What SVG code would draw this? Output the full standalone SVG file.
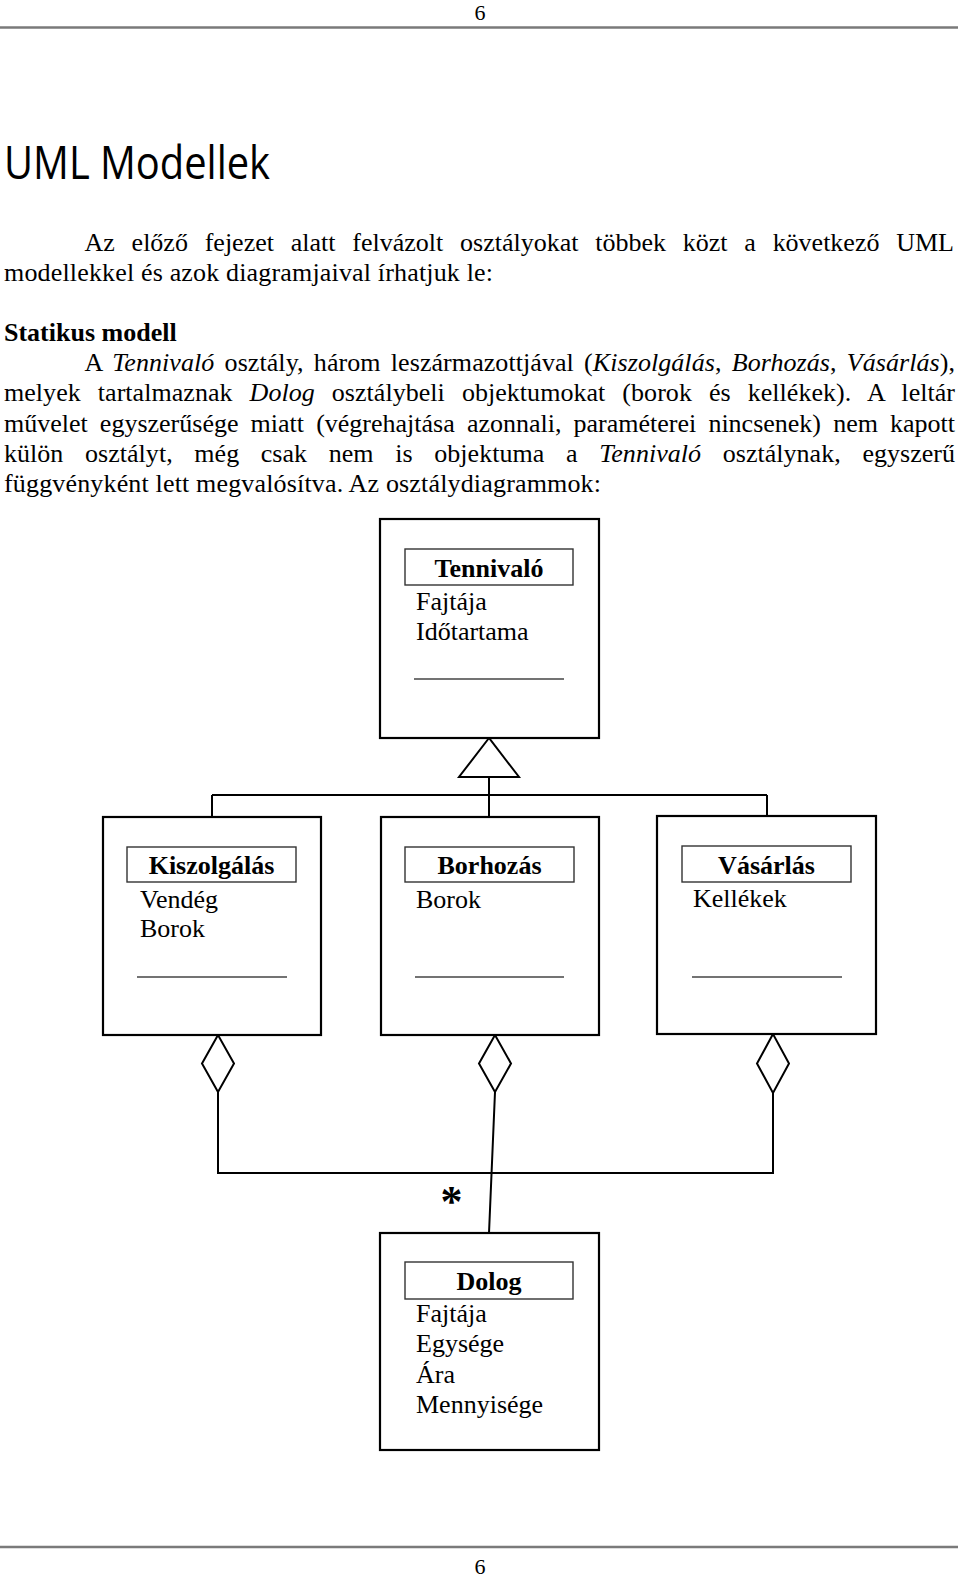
<svg xmlns="http://www.w3.org/2000/svg" width="960" height="1577" viewBox="0 0 960 1577">
<style>
.pg{font-family:"Liberation Serif","Times New Roman",serif;font-size:26px;fill:#000}
.it{font-style:italic}
.b{font-weight:bold}
.star{font-family:"Liberation Serif","Times New Roman",serif;font-size:44px;font-weight:bold;text-anchor:middle;fill:#000}
.num{font-family:"Liberation Serif","Times New Roman",serif;font-size:22px;fill:#000}
.h1{font-family:"Open Sans","Noto Sans",sans-serif;font-size:45px;fill:#000}
.rule{stroke:#7a7a7a;stroke-width:2.5}
.box{fill:#fff;stroke:#000;stroke-width:2.2}
.tbox{fill:none;stroke:#333;stroke-width:1.4}
.sep{stroke:#444;stroke-width:1.3}
.title{font-family:"Liberation Serif","Times New Roman",serif;font-size:26px;font-weight:bold;text-anchor:middle;fill:#000}
.attr{font-family:"Liberation Serif","Times New Roman",serif;font-size:26px;fill:#000}
.con{fill:none;stroke:#000;stroke-width:2}
.hd{fill:#fff;stroke:#000;stroke-width:2}
</style>
<rect width="960" height="1577" fill="#fff"/>
<g id="page">
<text class="num" x="480" y="20" text-anchor="middle">6</text>
<line class="rule" x1="0" y1="27.5" x2="958" y2="27.5"/>
<text class="h1" x="4" y="179" textLength="266" lengthAdjust="spacingAndGlyphs">UML Modellek</text>
<text class="pg" x="84.5" y="250.5" word-spacing="10.3" textLength="869.5" lengthAdjust="spacing">Az előző fejezet alatt felvázolt osztályokat többek közt a következő UML</text>
<text class="pg" x="4" y="280.7" textLength="489" lengthAdjust="spacing">modellekkel és azok diagramjaival írhatjuk le:</text>
<text class="pg b" x="4" y="340.9">Statikus modell</text>
<text class="pg" x="84.5" y="371.1" word-spacing="3.7" textLength="870.5" lengthAdjust="spacing">A <tspan class="it">Tennivaló</tspan> osztály, három leszármazottjával (<tspan class="it">Kiszolgálás</tspan>, <tspan class="it">Borhozás</tspan>, <tspan class="it">Vásárlás</tspan>),</text>
<text class="pg" x="4" y="401.3" word-spacing="10.5" textLength="951" lengthAdjust="spacing">melyek tartalmaznak <tspan class="it">Dolog</tspan> osztálybeli objektumokat (borok és kellékek). A leltár</text>
<text class="pg" x="4" y="431.5" word-spacing="5.6" textLength="951" lengthAdjust="spacing">művelet egyszerűsége miatt (végrehajtása azonnali, paraméterei nincsenek) nem kapott</text>
<text class="pg" x="4" y="461.7" word-spacing="15.1" textLength="951" lengthAdjust="spacing">külön osztályt, még csak nem is objektuma a <tspan class="it">Tennivaló</tspan> osztálynak, egyszerű</text>
<text class="pg" x="4" y="491.9" textLength="597" lengthAdjust="spacing">függvényként lett megvalósítva. Az osztálydiagrammok:</text>
<line class="rule" x1="0" y1="1547" x2="958" y2="1547"/>
<text class="num" x="480" y="1574" text-anchor="middle">6</text>
</g>
<g id="connectors">
<path class="con" d="M489 777 V795 M212 795 H767 M212 795 V817 M489 795 V817 M767 795 V816"/>
<polygon class="hd" points="489,738 459,777 519,777"/>
<path class="con" d="M218 1092 V1173 H773 V1093 M495 1092 L489 1233"/>
<polygon class="hd" points="218,1035 202,1063.5 218,1092 234,1063.5"/>
<polygon class="hd" points="495,1035 479,1063.5 495,1092 511,1063.5"/>
<polygon class="hd" points="773,1034 757,1063.5 773,1093 789,1063.5"/>
<text class="star" x="451.5" y="1215.5">*</text>
</g>
<g id="tennivalo">
<rect class="box" x="380" y="519" width="219" height="219"/>
<rect class="tbox" x="405" y="549" width="168" height="36"/>
<text class="title" x="489" y="576.5">Tennivaló</text>
<text class="attr" x="416" y="610">Fajtája</text>
<text class="attr" x="416" y="640">Időtartama</text>
<line class="sep" x1="414" y1="679" x2="564" y2="679"/>
</g>
<g id="kiszolgalas">
<rect class="box" x="103" y="817" width="218" height="218"/>
<rect class="tbox" x="127" y="847" width="169" height="35"/>
<text class="title" x="211.5" y="874">Kiszolgálás</text>
<text class="attr" x="140" y="908">Vendég</text>
<text class="attr" x="140" y="937">Borok</text>
<line class="sep" x1="137" y1="977" x2="287" y2="977"/>
</g>
<g id="borhozas">
<rect class="box" x="381" y="817" width="218" height="218"/>
<rect class="tbox" x="405" y="847" width="169" height="35"/>
<text class="title" x="489.5" y="874">Borhozás</text>
<text class="attr" x="416" y="908">Borok</text>
<line class="sep" x1="415" y1="977" x2="564" y2="977"/>
</g>
<g id="vasarlas">
<rect class="box" x="657" y="816" width="219" height="218"/>
<rect class="tbox" x="682" y="846" width="169" height="36"/>
<text class="title" x="766.5" y="873.5">Vásárlás</text>
<text class="attr" x="693" y="907">Kellékek</text>
<line class="sep" x1="692" y1="977" x2="842" y2="977"/>
</g>
<g id="dolog">
<rect class="box" x="380" y="1233" width="219" height="217"/>
<rect class="tbox" x="405" y="1262" width="168" height="37"/>
<text class="title" x="489" y="1290">Dolog</text>
<text class="attr" x="416" y="1322">Fajtája</text>
<text class="attr" x="416" y="1352">Egysége</text>
<text class="attr" x="416" y="1383">Ára</text>
<text class="attr" x="416" y="1413">Mennyisége</text>
</g>
</svg>
